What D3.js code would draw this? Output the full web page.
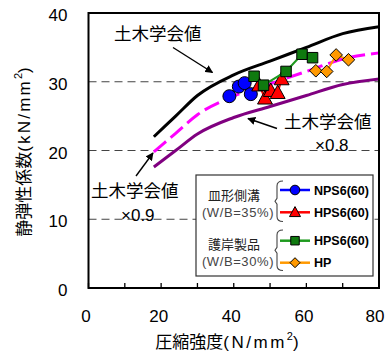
<!DOCTYPE html>
<html>
<head>
<meta charset="utf-8">
<script src="https://cdn.jsdelivr.net/npm/d3@7"></script>
<style>
  html, body { margin: 0; padding: 0; background: #fff; }
  svg { display: block; }
  text { font-family: "Liberation Sans", Arial, "Noto Sans CJK JP", sans-serif; }
  .jp { font-family: "Noto Sans CJK JP", "Liberation Sans", sans-serif; }
</style>
</head>
<body>
<svg id="chart" width="387" height="352"></svg>
<script>
// Design-standard (JSCE) elastic modulus vs. compressive strength
const fcStd = [18, 24, 30, 40, 50, 60, 70, 80];
const ecStd = [22, 25, 28, 31, 33, 35, 37, 38];
const ecStd09 = [19.8, 22.5, 25.2, 27.9, 29.7, 31.5, 33.3, 34.2];
const ecStd08 = [17.6, 20.0, 22.4, 24.8, 26.4, 28.0, 29.6, 30.4];

// Measured specimens
const npsX = [38.8, 41.4, 43.0, 44.7];
const npsY = [27.9, 29.3, 29.8, 28.2];
const hpsAX = [47.0, 48.6, 50.2, 52.1, 53.2];
const hpsAY = [29.5, 27.6, 28.7, 28.4, 30.4];
const hpsBX = [45.6, 48.2, 54.4, 58.8, 61.7];
const hpsBY = [30.8, 29.5, 31.5, 34.0, 33.5];
const hpX = [62.6, 65.6, 68.2, 71.6];
const hpY = [31.6, 31.5, 33.9, 33.2];

const xTicks = [0, 20, 40, 60, 80];
const xMinor = [10, 30, 50, 70];
const yTicks = [0, 10, 20, 30, 40];
const gridY = [10, 20, 30];

const svg = d3.select("#chart");
const L = 88.5, R = 379, T = 13, B = 288;
const x = d3.scaleLinear().domain([0, 80]).range([L, R]);
const y = d3.scaleLinear().domain([0, 40]).range([B, T]);

svg.append("defs").append("marker")
  .attr("id", "arr").attr("viewBox", "0 0 10 10")
  .attr("refX", 9).attr("refY", 5)
  .attr("markerWidth", 8).attr("markerHeight", 8)
  .attr("markerUnits", "userSpaceOnUse")
  .attr("orient", "auto")
  .append("path").attr("d", "M0,0 L10,5 L0,10 Z").attr("fill", "#000");

// dashed reference lines
svg.append("g").selectAll("line").data(gridY).join("line")
  .attr("x1", L).attr("x2", R)
  .attr("y1", d => y(d)).attr("y2", d => y(d))
  .attr("stroke", "#444").attr("stroke-width", 1.1)
  .attr("stroke-dasharray", "8,5");

// standard curves
const line = d3.line().x(d => x(d[0])).y(d => y(d[1])).curve(d3.curveMonotoneX);
svg.append("path").attr("d", line(d3.zip(fcStd, ecStd08)))
  .attr("fill", "none").attr("stroke", "#800080").attr("stroke-width", 3);
svg.append("path").attr("d", line(d3.zip(fcStd, ecStd09)))
  .attr("fill", "none").attr("stroke", "#ff00ff").attr("stroke-width", 3)
  .attr("stroke-dasharray", "16,6");
svg.append("path").attr("d", line(d3.zip(fcStd, ecStd)))
  .attr("fill", "none").attr("stroke", "#000").attr("stroke-width", 3);

// marker shapes
function markerPath(kind, s) {
  if (kind === "circle") return d3.symbol(d3.symbolCircle, Math.PI * s * s)();
  if (kind === "triangle") {
    const h = s * 0.95;
    return `M0,${-h * 0.6}L${s * 0.55},${h * 0.45}L${-s * 0.55},${h * 0.45}Z`;
  }
  if (kind === "square") return `M${-s / 2},${-s / 2}h${s}v${s}h${-s}Z`;
  if (kind === "diamond") return `M0,${-s}L${s},0L0,${s}L${-s},0Z`;
}

const series = [
  { xs: npsX, ys: npsY, color: "#0000ff", line: "#0000ff", kind: "circle", size: 6.5, lsize: 4.8 },
  { xs: hpsAX, ys: hpsAY, color: "#ff0000", line: "#ff0000", kind: "triangle", size: 13.5, lsize: 10 },
  { xs: hpsBX, ys: hpsBY, color: "#0f7a0f", line: "#1e9a1e", kind: "square", size: 10.5, lsize: 8.5 },
  { xs: hpX, ys: hpY, color: "#ff9900", line: "#ff9900", kind: "diamond", size: 6.3, lsize: 5 }
];

const pl = d3.line().x(d => x(d[0])).y(d => y(d[1]));
series.forEach(s => {
  const pts = d3.zip(s.xs, s.ys);
  const g = svg.append("g");
  g.append("path").attr("d", pl(pts)).attr("fill", "none")
    .attr("stroke", s.line).attr("stroke-width", 2);
  g.selectAll("path.m").data(pts).join("path").attr("class", "m")
    .attr("transform", d => `translate(${x(d[0])},${y(d[1])})`)
    .attr("d", markerPath(s.kind, s.size))
    .attr("fill", s.color).attr("stroke", "#000").attr("stroke-width", 1);
});

// frame and axes
svg.append("rect").attr("x", L).attr("y", T).attr("width", R - L).attr("height", B - T)
  .attr("fill", "none").attr("stroke", "#000").attr("stroke-width", 2);

const gx = svg.append("g").attr("transform", `translate(0,${B})`)
  .call(d3.axisBottom(x).tickValues(xTicks).tickSize(0).tickPadding(22).tickFormat(d3.format("d")));
gx.select(".domain").remove();
gx.selectAll("text").attr("font-size", 17).attr("fill", "#000").attr("dx", d => d === 80 ? -4.5 : -3)
  .style("font-family", '"Liberation Sans", Arial, sans-serif');
svg.append("g").selectAll("line").data(xTicks.concat(xMinor)).join("line")
  .attr("x1", d => x(d)).attr("x2", d => x(d)).attr("y1", B).attr("y2", B - 5)
  .attr("stroke", "#000").attr("stroke-width", 1.3);

const gy = svg.append("g").attr("transform", `translate(${L},0)`)
  .call(d3.axisLeft(y).tickValues(yTicks).tickSize(0).tickPadding(21).tickFormat(d3.format("d")));
gy.select(".domain").remove();
gy.selectAll("text").attr("font-size", 17).attr("fill", "#000").attr("dy", "0.45em")
  .style("font-family", '"Liberation Sans", Arial, sans-serif');

// axis titles
const xt = svg.append("text").attr("x", 227).attr("y", 348).attr("text-anchor", "middle")
  .attr("font-size", 17).attr("fill", "#000");
xt.append("tspan").attr("class", "jp").text("圧縮強度");
xt.append("tspan").attr("letter-spacing", 2.5).text("(N/mm");
xt.append("tspan").attr("font-size", 11).attr("dy", -8).text("2");
xt.append("tspan").attr("dy", 8).text(")");

const yt = svg.append("text").attr("transform", "translate(30,152) rotate(-90)")
  .attr("text-anchor", "middle").attr("font-size", 17).attr("fill", "#000");
yt.append("tspan").attr("class", "jp").text("静弾性係数");
yt.append("tspan").attr("letter-spacing", 2.2).text("(kN/mm");
yt.append("tspan").attr("font-size", 11).attr("dy", -8).text("2");
yt.append("tspan").attr("dy", 8).text(")");

// curve annotations
function note(tx, ty, str) {
  svg.append("text").attr("class", "jp").attr("x", tx).attr("y", ty)
    .attr("font-size", 17.5).attr("fill", "#000").text(str);
}
function arrow(x1, y1, x2, y2) {
  svg.append("line").attr("x1", x1).attr("y1", y1).attr("x2", x2).attr("y2", y2)
    .attr("stroke", "#000").attr("stroke-width", 1.4).attr("marker-end", "url(#arr)");
}
note(114, 40, "土木学会値");
arrow(173, 47.5, 212.5, 72.5);
note(284, 128, "土木学会値");
arrow(277, 128.5, 248, 118.5);
svg.append("text").attr("x", 315).attr("y", 151).attr("font-size", 17).text("×0.8");
note(91, 197, "土木学会値");
arrow(136, 176, 153, 153);
svg.append("text").attr("x", 121).attr("y", 221).attr("font-size", 17).text("×0.9");

// legend
const lg = svg.append("g");
lg.append("rect").attr("x", 196).attr("y", 175).attr("width", 177).attr("height", 101)
  .attr("fill", "#fff").attr("stroke", "#333").attr("stroke-width", 1.2);

const groups = [
  { name: "皿形側溝", wb: "(W/B=35%)", ny: 200, wy: 216.5, b0: 181, b1: 221.5 },
  { name: "護岸製品", wb: "(W/B=30%)", ny: 249, wy: 265.5, b0: 230, b1: 270.5 }
];
groups.forEach(g => {
  lg.append("text").attr("class", "jp").attr("x", 234).attr("y", g.ny)
    .attr("text-anchor", "middle").attr("font-size", 13).attr("fill", "#222").text(g.name);
  lg.append("text").attr("x", 238).attr("y", g.wy).attr("text-anchor", "middle")
    .attr("font-size", 13).attr("letter-spacing", 0.6).attr("fill", "#444").text(g.wb);
  const m = (g.b0 + g.b1) / 2;
  lg.append("path")
    .attr("d", `M283,${g.b0} Q277,${g.b0} 277,${g.b0 + 5} L277,${m - 3} L275,${m} L277,${m + 3} L277,${g.b1 - 5} Q277,${g.b1} 283,${g.b1}`)
    .attr("fill", "none").attr("stroke", "#444").attr("stroke-width", 1.1);
});

const legendNames = ["NPS6(60)", "HPS6(60)", "HPS6(60)", "HP"];
const legendY = [190, 212.3, 240.7, 262.7];
series.forEach((s, i) => {
  const ly = legendY[i];
  lg.append("line").attr("x1", 280).attr("x2", 310).attr("y1", ly).attr("y2", ly)
    .attr("stroke", s.line).attr("stroke-width", 2.5);
  lg.append("path").attr("transform", `translate(295,${ly})`)
    .attr("d", markerPath(s.kind, s.lsize))
    .attr("fill", s.color).attr("stroke", "#000").attr("stroke-width", 1);
  lg.append("text").attr("x", 314).attr("y", ly + 4.5)
    .attr("font-size", 12.5).attr("font-weight", "bold").attr("fill", "#000").text(legendNames[i]);
});
</script>
</body>
</html>
